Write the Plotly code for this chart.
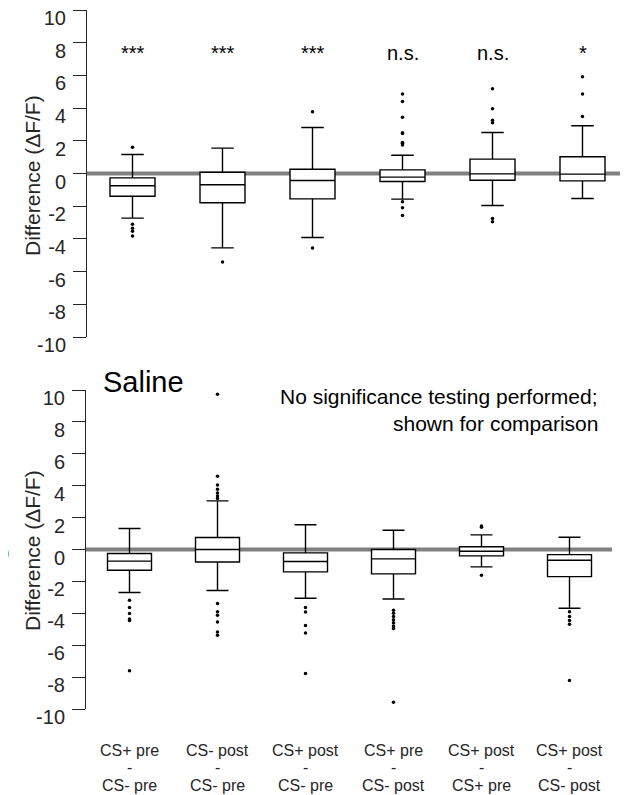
import plotly.graph_objects as go

OFF = 8                      # page body margin of the browser
W, H = 628 - OFF, 795 - OFF

positions = [1, 2, 3, 4, 5, 6]
cat_first = ["CS+ pre", "CS- post", "CS+ post", "CS+ pre", "CS+ post", "CS+ post"]
cat_second = ["CS- pre", "CS- pre", "CS- pre", "CS- post", "CS+ pre", "CS- post"]
significance = ["***", "***", "***", "n.s.", "n.s.", "*"]
sig_y = 7.4

# Top panel (drug)
top_q1 = [-1.39, -1.79, -1.55, -0.49, -0.41, -0.45]
top_median = [-0.75, -0.69, -0.43, -0.22, -0.02, -0.04]
top_q3 = [-0.27, 0.08, 0.26, 0.22, 0.88, 1.02]
top_lower = [-2.73, -4.55, -3.91, -1.57, -1.96, -1.53]
top_upper = [1.16, 1.55, 2.81, 1.12, 2.51, 2.92]
top_outliers = [[1.6, -3.1, -3.35, -3.53, -3.82],
                [-5.42],
                [3.77, -4.55],
                [4.87, 4.4, 3.44, 2.5, 2.45, 1.9, 1.85, 1.75, -1.73, -2.1, -2.57],
                [5.18, 3.96, 3.25, 3.1, -2.75, -2.95],
                [5.91, 4.87, 3.49]]

# Bottom panel (saline)
bot_q1 = [-1.30, -0.78, -1.40, -1.53, -0.40, -1.70]
bot_median = [-0.73, 0.0, -0.75, -0.59, -0.11, -0.67]
bot_q3 = [-0.25, 0.75, -0.21, 0.0, 0.17, -0.32]
bot_lower = [-2.70, -2.57, -3.06, -3.10, -1.09, -3.68]
bot_upper = [1.32, 3.05, 1.55, 1.21, 0.92, 0.77]
bot_outliers = [[-3.18, -3.64, -4.02, -4.35, -4.45, -7.6],
                [9.73, 4.6, 4.04, 3.78, 3.55, 3.35, 3.2, -3.39, -3.91, -4.12, -4.54, -5.17, -5.38],
                [-3.64, -3.92, -4.77, -5.23, -7.77],
                [-3.81, -4.0, -4.2, -4.4, -4.6, -4.8, -4.96, -9.58],
                [1.48, 1.4, -1.61],
                [-3.91, -4.2, -4.45, -4.69, -8.22]]

yticks = list(range(-10, 11, 2))
yticktext = [str(v) for v in yticks]

FONT = "Liberation Sans, Arial, sans-serif"
AXC = "#262626"

fig = go.Figure()


def add_panel(q1, med, q3, lo, hi, outl, xa, ya):
    fig.add_trace(go.Box(
        x=positions, q1=q1, median=med, q3=q3, lowerfence=lo, upperfence=hi,
        boxpoints=False, fillcolor="white", line=dict(color="black", width=1.4),
        width=0.5, whiskerwidth=0.5, xaxis=xa, yaxis=ya, showlegend=False,
        hoverinfo="skip"))
    ox, oy = [], []
    for p, vals in zip(positions, outl):
        ox += [p] * len(vals)
        oy += vals
    fig.add_trace(go.Scatter(
        x=ox, y=oy, mode="markers", marker=dict(color="black", size=3.5),
        xaxis=xa, yaxis=ya, showlegend=False, hoverinfo="skip"))


add_panel(top_q1, top_median, top_q3, top_lower, top_upper, top_outliers, "x", "y")
add_panel(bot_q1, bot_median, bot_q3, bot_lower, bot_upper, bot_outliers, "x2", "y2")


def px(x):
    return (x - OFF) / W


def py(y):
    return 1 - (y - OFF) / H


# screen-pixel geometry of the reference
top_x0, top_x1 = 87, 621
top_c0, step_t = 132.5, 90
bot_x0, bot_x1 = 86, 612
bot_c0, step_b = 129.5, 88
top_y_top, top_y_bot = 10, 337
bot_y_top, bot_y_bot = 390, 709

trange = [1 - (top_c0 - top_x0) / step_t, 1 + (top_x1 - top_c0) / step_t]
brange = [1 - (bot_c0 - bot_x0) / step_b, 1 + (bot_x1 - bot_c0) / step_b]

# zero lines
fig.add_shape(type="line", xref="x", yref="y", x0=trange[0], x1=trange[1], y0=0, y1=0,
              line=dict(color="#808080", width=4), layer="below")
fig.add_shape(type="line", xref="x2", yref="y2", x0=brange[0], x1=brange[1], y0=0, y1=0,
              line=dict(color="#808080", width=4), layer="below")

yax = dict(range=[-10, 10], tickvals=yticks, ticktext=yticktext, ticks="outside", ticklen=13,
           tickcolor=AXC, showline=True, linecolor=AXC, linewidth=1, showgrid=False,
           zeroline=False, automargin=False, ticklabeloverflow="allow",
           tickfont=dict(family=FONT, size=20, color=AXC), ticklabelshift=8,
           ticklabelstandoff=3)

fig.update_layout(
    width=W, height=H, margin=dict(l=0, r=0, t=0, b=0, autoexpand=False),
    paper_bgcolor="white", plot_bgcolor="white",
    xaxis=dict(domain=[px(top_x0), px(top_x1)], range=trange, showticklabels=False,
               showline=False, zeroline=False, showgrid=False, ticks="", anchor="y",
               automargin=False),
    yaxis=dict(domain=[py(top_y_bot), py(top_y_top)], anchor="x", **yax),
    xaxis2=dict(domain=[px(bot_x0), px(bot_x1)], range=brange, showticklabels=False,
                showline=False, zeroline=False, showgrid=False, ticks="", anchor="y2",
                automargin=False),
    yaxis2=dict(domain=[py(bot_y_bot), py(bot_y_top)], anchor="x2", **yax),
    showlegend=False,
)

anns = []
for p, s in zip(positions, significance):
    anns.append(dict(x=p, y=sig_y, xref="x", yref="y", text=s, showarrow=False,
                     font=dict(family=FONT, size=20, color="black"),
                     xanchor="center", yanchor="middle"))
# category labels (three rows)
for p, a, b in zip(positions, cat_first, cat_second):
    for txt, yc in [(a, 750), ("-", 767), (b, 785)]:
        anns.append(dict(x=p, y=py(yc), xref="x2", yref="paper", text=txt, showarrow=False,
                         font=dict(family=FONT, size=16, color=AXC),
                         xanchor="center", yanchor="middle"))
# y axis titles
for yc in [176, 551]:
    anns.append(dict(x=px(32), y=py(yc), xref="paper", yref="paper",
                     text="Difference (ΔF/F)", textangle=-90, showarrow=False,
                     font=dict(family=FONT, size=21, color=AXC),
                     xanchor="center", yanchor="middle"))
anns.append(dict(x=px(143), y=py(382), xref="paper", yref="paper", text="Saline",
                 showarrow=False, font=dict(family=FONT, size=29, color="black"),
                 xanchor="center", yanchor="middle"))
anns.append(dict(x=px(600), y=py(397), xref="paper", yref="paper",
                 text="No significance testing performed;", showarrow=False,
                 font=dict(family=FONT, size=21, color="black"),
                 xanchor="right", yanchor="middle"))
anns.append(dict(x=px(600), y=py(423), xref="paper", yref="paper",
                 text="shown for comparison", showarrow=False,
                 font=dict(family=FONT, size=21, color="black"),
                 xanchor="right", yanchor="middle"))
# clipped label at the far left edge of the reference
anns.append(dict(x=px(11), y=py(554), xref="paper", yref="paper", text="0",
                 showarrow=False, font=dict(family=FONT, size=20, color=AXC),
                 xanchor="right", yanchor="middle"))
fig.update_layout(annotations=anns)

fig.write_html("out.html")
